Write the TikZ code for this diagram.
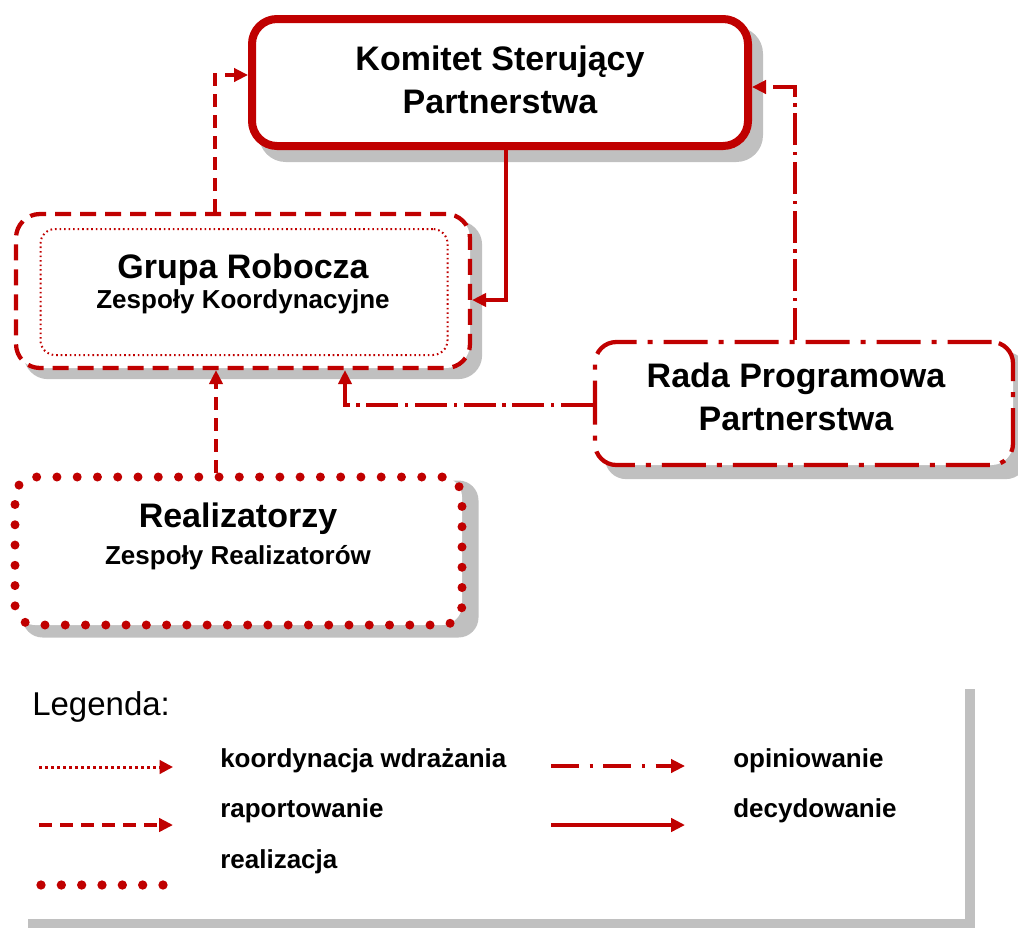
\documentclass[tikz,border=0pt]{standalone}
\usepackage{fontspec}
\setmainfont{Liberation Sans}
\usetikzlibrary{arrows.meta}
\definecolor{dred}{HTML}{C00000}
\definecolor{shd}{HTML}{C0C0C0}
\pgfdeclarelayer{bg}
\pgfsetlayers{bg,main}
\begin{document}
\begin{tikzpicture}[x=0.75pt,y=-0.75pt,
  box/.style={shape=rectangle, inner sep=0pt, fill=white, draw=dred},
  kombox/.style={box, line width=6pt, rounded corners=18.75pt, minimum width=372pt, minimum height=95.25pt},
  grpbox/.style={box, line width=3.2pt, rounded corners=18pt, dash pattern=on 12pt off 6.75pt, minimum width=340.5pt, minimum height=115.5pt},
  innbox/.style={box, line width=1.5pt, rounded corners=11pt, dash pattern=on 1.2pt off 2.2pt, minimum width=305.25pt, minimum height=94.5pt},
  radbox/.style={box, line width=3.2pt, rounded corners=16pt, dash pattern=on 33pt off 8.25pt on 3.75pt off 8.25pt, minimum width=313.5pt, minimum height=92.25pt},
  relbox/.style={box, line width=6.75pt, line cap=round, rounded corners=15pt, dash pattern=on 0pt off 15.2pt, minimum width=335.25pt, minimum height=111pt},
  legbox/.style={shape=rectangle, inner sep=0pt, fill=white, minimum width=710.25pt, minimum height=179.25pt},
  shadow/.style={fill=shd},
  conn/.style={draw=dred, line width=2.4pt, -{Triangle[length=10.5pt,width=10pt]}},
  rap/.style={conn, dash pattern=on 9.75pt off 6pt},
  opin/.style={conn, dash pattern=on 24pt off 5pt on 2.5pt off 5pt},
  dec/.style={conn},
  koord/.style={conn, line width=2.25pt, dash pattern=on 2.25pt off 2.25pt, -{Triangle[length=10pt,width=10pt]}},
  reali/.style={draw=dred, line width=7pt, line cap=round, dash pattern=on 0pt off 15.25pt},
  ttl/.style={font=\fontsize{25.5pt}{30pt}\selectfont\bfseries, anchor=base, inner sep=0pt},
  sub/.style={font=\fontsize{19.5pt}{24pt}\selectfont\bfseries, anchor=base, inner sep=0pt},
  legt/.style={font=\fontsize{19.5pt}{24pt}\selectfont\bfseries, anchor=base west, inner sep=0pt},
  leghead/.style={font=\fontsize{24.75pt}{30pt}\selectfont, anchor=base west, inner sep=0pt}
]
\useasboundingbox (0,0) rectangle (1018,929);

% boxes
\node[kombox] (kom) at (500,82.5) {};
\node[grpbox] (grupa) at (243,291) {};
\node[innbox] (inner) at (244,292) {};
\node[radbox] (rada) at (804,403.5) {};
\node[relbox] (real) at (238.5,551) {};
\node[legbox] (leg) at (491.5,799.5) {};

% shadows
\begin{pgfonlayer}{bg}
  \fill[shadow, rounded corners=20pt] ([shift={(11,12)}]kom.north west) rectangle ([shift={(11,12)}]kom.south east);
  \fill[shadow, rounded corners=18pt] ([shift={(10,9)}]grupa.north west) rectangle ([shift={(10,9)}]grupa.south east);
  \fill[shadow, rounded corners=16pt] ([shift={(12,12)}]rada.north west) rectangle ([shift={(12,12)}]rada.south east);
  \fill[shadow, rounded corners=15pt] ([shift={(12,8)}]real.north west) rectangle ([shift={(12,8)}]real.south east);
  \fill[shadow] ([shift={(10,9)}]leg.north west) rectangle ([shift={(10,9)}]leg.south east);
\end{pgfonlayer}

% texts
\node[ttl] (kom1) at (500,70) {Komitet Sterujący};
\node[ttl] (kom2) at (500,113) {Partnerstwa};
\node[ttl] (grp1) at (243,278) {Grupa Robocza};
\node[sub] (grp2) at (243,308) {Zespoły Koordynacyjne};
\node[ttl] (rad1) at (796,387) {Rada Programowa};
\node[ttl] (rad2) at (796,430) {Partnerstwa};
\node[ttl] (rel1) at (238,527) {Realizatorzy};
\node[sub] (rel2) at (238,564) {Zespoły Realizatorów};

% connectors
\coordinate (c1) at (215,75);
\coordinate (c2) at (506,300);
\coordinate (c3) at (795,87);
\coordinate (c4) at (345,405);
\coordinate (c5) at (216,420);
\draw[rap] (grupa.north -| c1) |- (kom.west |- c1);
\draw[dec] (kom.south -| c2) |- (grupa.east |- c2);
\draw[opin] (rada.north -| c3) |- (kom.east |- c3);
\draw[opin] (rada.west |- c4) -| (grupa.south -| c4);
\draw[rap] (real.north -| c5) -- (grupa.south -| c5);

% legend
\node[leghead] (lh) at (32,715) {Legenda:};
\coordinate (l1a) at (39,767);  \coordinate (l1b) at (173,767);
\coordinate (l2a) at (39,825);  \coordinate (l2b) at (173,825);
\coordinate (l3a) at (41,885);  \coordinate (l3b) at (163.5,885);
\coordinate (l4a) at (551,766); \coordinate (l4b) at (685,766);
\coordinate (l5a) at (551,825); \coordinate (l5b) at (685,825);
\draw[koord] (l1a) -- (l1b);
\draw[rap, line width=3pt] (l2a) -- (l2b);
\draw[reali] (l3a) -- (l3b);
\draw[opin, dash pattern=on 21pt off 8pt on 2.25pt off 8pt] (l4a) -- (l4b);
\draw[dec, line width=3pt] (l5a) -- (l5b);
\node[legt] (t1) at (220,767) {koordynacja wdrażania};
\node[legt] (t2) at (220,817) {raportowanie};
\node[legt] (t3) at (220,868) {realizacja};
\node[legt] (t4) at (733,767) {opiniowanie};
\node[legt] (t5) at (733,817) {decydowanie};
\end{tikzpicture}
\end{document}
